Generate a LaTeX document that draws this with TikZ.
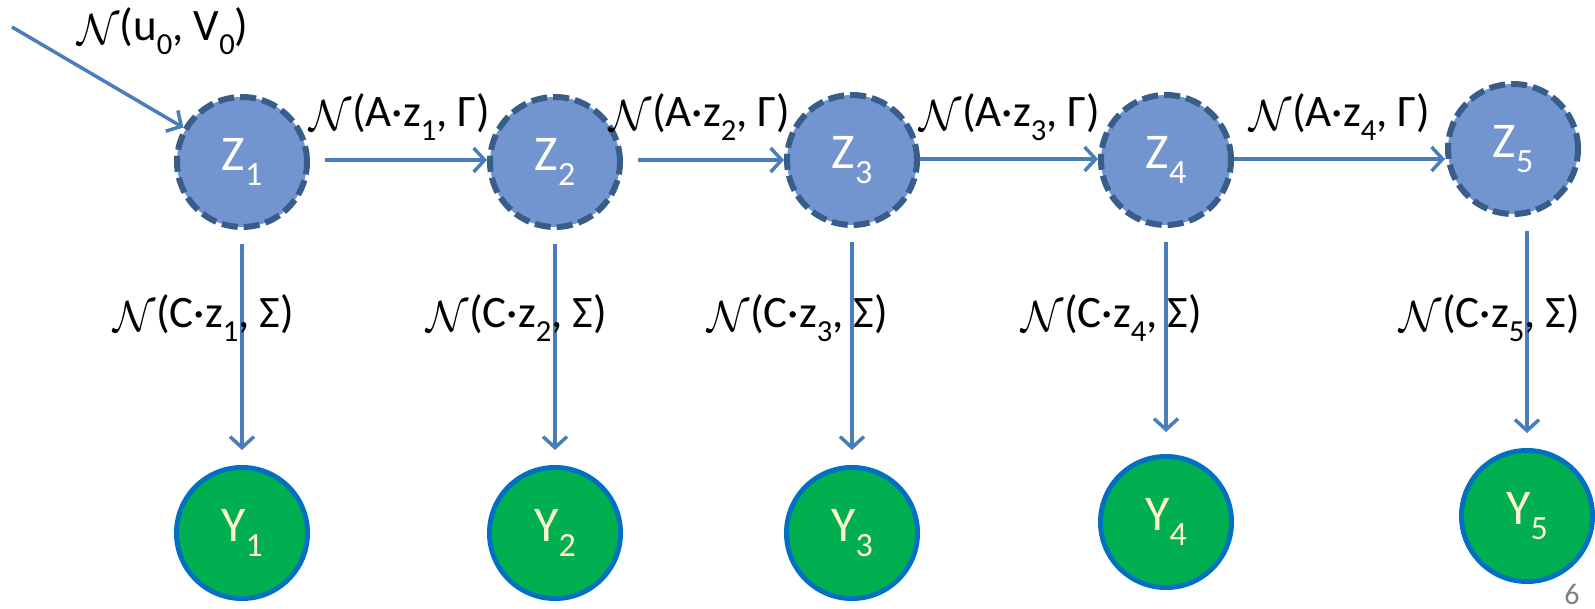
\documentclass[tikz,border=0pt]{standalone}
\usepackage{fontspec}
\setmainfont{Carlito}
\usetikzlibrary{arrows.meta, positioning}
\definecolor{zfill}{HTML}{7294CF}
\definecolor{zline}{HTML}{385D8A}
\definecolor{yfill}{HTML}{00B050}
\definecolor{yline}{HTML}{0070C0}
\definecolor{arrblue}{HTML}{4A7EBB}
\definecolor{ytext}{HTML}{FFF2CC}
\newcommand{\lowidx}[1]{\raisebox{-0.3em}{\scalebox{0.68}{#1}}}
\newcommand{\gauss}{\raisebox{-0.08em}{\scalebox{1.75}{$\mathcal{N}$}}}
\tikzset{
  % stato nascosto
  hidden/.style={circle, draw=zline, line width=6pt, dash pattern=on 16pt off 6pt,
    fill=zfill, minimum size=130pt, inner sep=0pt, text=white,
    font=\fontsize{50}{54}\selectfont},
  % osservazione
  observed/.style={circle, draw=yline, line width=5pt, fill=yfill,
    minimum size=131pt, inner sep=0pt, text=ytext,
    font=\fontsize{50}{54}\selectfont},
  % freccia di transizione / emissione
  trans/.style={-{Straight Barb[length=11pt, width=24pt]}, line width=3.5pt, arrblue},
  % etichette delle distribuzioni
  dist/.style={font=\fontsize{45}{50}\selectfont, inner sep=0pt},
}
\begin{document}
\begin{tikzpicture}[x=1pt, y=-1pt]
  \useasboundingbox (0,0) rectangle (1595,608);
  % stati nascosti
  \node[hidden] (z1) at (242,162) {Z\lowidx{1}};
  \node[hidden] (z2) at (555,162) {Z\lowidx{2}};
  \node[hidden] (z3) at (852,160) {Z\lowidx{3}};
  \node[hidden] (z4) at (1166,160) {Z\lowidx{4}};
  \node[hidden] (z5) at (1513,149) {Z\lowidx{5}};
  % osservazioni
  \node[observed] (y1) at (242,533) {Y\lowidx{1}};
  \node[observed] (y2) at (555,533) {Y\lowidx{2}};
  \node[observed] (y3) at (852,533) {Y\lowidx{3}};
  \node[observed] (y4) at (1166,522) {Y\lowidx{4}};
  \node[observed] (y5) at (1527,516) {Y\lowidx{5}};
  % distribuzione iniziale
  \coordinate (start) at (12,27);
  \draw[trans] (start) -- (z1);
  \node[dist] (init) at (163,31) {\gauss(u\lowidx{0}, V\lowidx{0})};
  % transizioni
  \draw[trans, shorten <=15pt] (z1.east |- 0,160) -- (z2.west |- 0,160);
  \draw[trans, shorten <=15pt] (z2.east |- 0,160) -- (z3.west |- 0,160);
  \draw[trans] (z3.east |- 0,159) -- (z4.west |- 0,159);
  \draw[trans] (z4.east |- 0,159) -- (z5.west |- 0,159);
  \node[dist] (a1) at (400,117) {\gauss(A·z\lowidx{1}, Γ)};
  \node[dist] (a2) at (700,117) {\gauss(A·z\lowidx{2}, Γ)};
  \node[dist] (a3) at (1010,117) {\gauss(A·z\lowidx{3}, Γ)};
  \node[dist] (a4) at (1340,117) {\gauss(A·z\lowidx{4}, Γ)};
  % emissioni
  \draw[trans, shorten <=14pt, shorten >=15pt] (z1.south -| y1.north) -- (y1.north);
  \draw[trans, shorten <=14pt, shorten >=15pt] (z2.south -| y2.north) -- (y2.north);
  \draw[trans, shorten <=14pt, shorten >=15pt] (z3.south -| y3.north) -- (y3.north);
  \draw[trans, shorten <=14pt, shorten >=22pt] (z4.south -| y4.north) -- (y4.north);
  \draw[trans, shorten <=14pt, shorten >=15pt] (z5.south -| y5.north) -- (y5.north);
  \node[dist] (c1) at (204,318) {\gauss(C·z\lowidx{1}, Σ)};
  \node[dist] (c2) at (517,318) {\gauss(C·z\lowidx{2}, Σ)};
  \node[dist] (c3) at (798,318) {\gauss(C·z\lowidx{3}, Σ)};
  \node[dist] (c4) at (1112,318) {\gauss(C·z\lowidx{4}, Σ)};
  \node[dist] (c5) at (1490,318) {\gauss(C·z\lowidx{5}, Σ)};
  % numero di pagina
  \node[text=black!50, font=\fontsize{30}{34}\selectfont, inner sep=0pt, anchor=base] (page) at (1572,604) {6};
\end{tikzpicture}
\end{document}
